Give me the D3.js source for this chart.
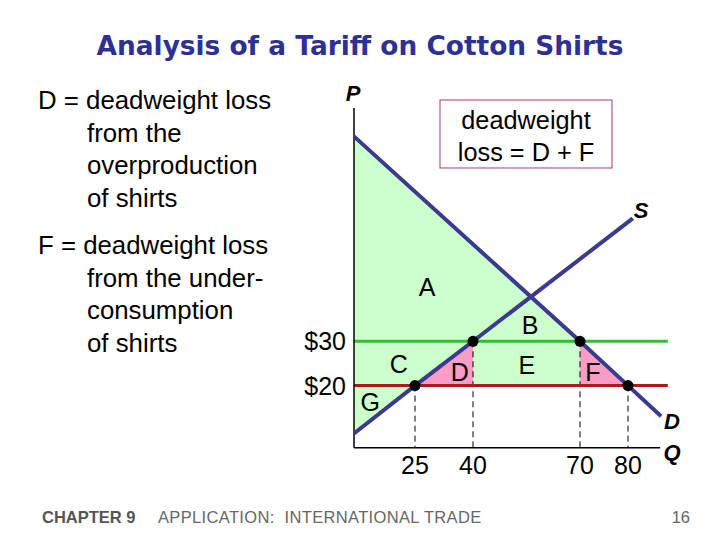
<!DOCTYPE html>
<html>
<head>
<meta charset="utf-8">
<script src="https://cdn.jsdelivr.net/npm/d3@7"></script>
<style>
  body { margin: 0; background: #fff; }
  svg { font-family: "Liberation Sans", Arial, sans-serif; }
</style>
</head>
<body>
<script>
// ----- data -----
const qTicks = [25, 40, 70, 80];
const pTicks = [20, 30];
const pTickLabels = ['$20', '$30'];
const demand = [{q: 0, p: 76.2}, {q: 70, p: 30}, {q: 80, p: 20}, {q: 86.9, p: 13.1}];
const supply = [{q: 0, p: 9.2}, {q: 25, p: 20}, {q: 40, p: 30}, {q: 81, p: 57.7}];
const worldPrice = 20;   // red line
const tariffPrice = 30;  // green line
const regionLabels = ['A', 'B', 'C', 'D', 'E', 'F', 'G'];
const regionQ = [28.1, 56, 18.4, 36.6, 55.1, 72.7, 6.6];
const regionP = [42.2, 33.7, 24.9, 23.1, 24.7, 23.1, 16.3];
const dots = [{q: 25, p: 20}, {q: 40, p: 30}, {q: 70, p: 30}, {q: 80, p: 20}];

const svg = d3.select('body').append('svg')
  .attr('width', 720)
  .attr('height', 540);

// quantity axis is not drawn to a uniform scale in the original
const x = d3.scaleLinear()
  .domain([0, 25, 40, 70, 80, 90])
  .range([354, 415, 473, 580, 628, 676]);
const y = d3.scaleLinear()
  .domain([6, 82.6])
  .range([447.7, 108]);

const qMax = 86.7, lineEnd = 88.3;

// ----- title -----
svg.append('text')
  .attr('x', 360).attr('y', 55)
  .attr('text-anchor', 'middle')
  .attr('font-family', '"DejaVu Sans", Verdana, sans-serif')
  .attr('font-size', 26.4).attr('font-weight', 'bold')
  .attr('fill', '#2e3092')
  .text('Analysis of a Tariff on Cotton Shirts');

// ----- left notes -----
const notes = [
  {y: 109, lines: ['D = deadweight loss', 'from the', 'overproduction', 'of shirts']},
  {y: 254, lines: ['F = deadweight loss', 'from the under-', 'consumption', 'of shirts']}
];
notes.forEach(n => {
  const t = svg.append('text').attr('font-size', 25.8).attr('fill', '#000');
  n.lines.forEach((l, i) => {
    t.append('tspan')
      .attr('x', i === 0 ? 38 : 87)
      .attr('y', n.y + i * 32.7)
      .text(l);
  });
});

// ----- shaded areas -----
const area = d3.line().x(d => x(d.q)).y(d => y(d.p));
const greenPoly = [demand[0], demand[1], {q: 70, p: worldPrice}, {q: 40, p: worldPrice},
  supply[2], supply[1], supply[0]];
svg.append('path')
  .attr('d', area(greenPoly) + 'Z')
  .attr('fill', '#ccffcc');

const pinkD = [{q: 25, p: 20}, {q: 40, p: 30}, {q: 40, p: 20}];
const pinkF = [{q: 70, p: 30}, {q: 80, p: 20}, {q: 70, p: 20}];
[pinkD, pinkF].forEach(tri => {
  svg.append('path')
    .attr('d', area(tri) + 'Z')
    .attr('fill', '#f99cc6');
});

// ----- dashed drop lines -----
svg.selectAll('.drop')
  .data(dots)
  .join('line')
  .attr('class', 'drop')
  .attr('x1', d => x(d.q)).attr('x2', d => x(d.q))
  .attr('y1', d => y(d.p)).attr('y2', y(6))
  .attr('stroke', '#000')
  .attr('stroke-width', 1)
  .attr('stroke-dasharray', '6,4');

// ----- price lines -----
svg.append('line')
  .attr('x1', x(0)).attr('x2', x(lineEnd))
  .attr('y1', y(tariffPrice)).attr('y2', y(tariffPrice))
  .attr('stroke', '#2fbf2f').attr('stroke-width', 3);
svg.append('line')
  .attr('x1', x(0)).attr('x2', x(lineEnd))
  .attr('y1', y(worldPrice)).attr('y2', y(worldPrice))
  .attr('stroke', '#a81c1c').attr('stroke-width', 3);

// ----- axes -----
svg.append('line')
  .attr('x1', x(0)).attr('x2', x(0))
  .attr('y1', y(82.6)).attr('y2', y(6))
  .attr('stroke', '#000').attr('stroke-width', 1.5);
svg.append('line')
  .attr('x1', x(0)).attr('x2', x(qMax))
  .attr('y1', y(6)).attr('y2', y(6))
  .attr('stroke', '#000').attr('stroke-width', 1.5);

svg.selectAll('.qtick')
  .data(qTicks)
  .join('text')
  .attr('class', 'qtick')
  .attr('x', d => x(d))
  .attr('y', 474)
  .attr('text-anchor', 'middle')
  .attr('font-size', 25)
  .text(d => d);

svg.selectAll('.ptick')
  .data(pTicks)
  .join('text')
  .attr('class', 'ptick')
  .attr('x', 346)
  .attr('y', d => y(d))
  .attr('dy', '0.36em')
  .attr('text-anchor', 'end')
  .attr('font-size', 25)
  .text((d, i) => pTickLabels[i]);

// ----- curves -----
const line = d3.line().x(d => x(d.q)).y(d => y(d.p));
[demand, supply].forEach(c => {
  svg.append('path')
    .attr('d', line(c))
    .attr('fill', 'none')
    .attr('stroke', '#3a3a8e')
    .attr('stroke-width', 4);
});

// ----- dots -----
svg.selectAll('.dot')
  .data(dots)
  .join('circle')
  .attr('class', 'dot')
  .attr('cx', d => x(d.q)).attr('cy', d => y(d.p))
  .attr('r', 5.5)
  .attr('fill', '#000');

// ----- region letters -----
svg.selectAll('.region')
  .data(regionLabels)
  .join('text')
  .attr('class', 'region')
  .attr('x', (d, i) => x(regionQ[i]))
  .attr('y', (d, i) => y(regionP[i]))
  .attr('dy', '0.36em')
  .attr('text-anchor', 'middle')
  .attr('font-size', 25)
  .text(d => d);

// ----- axis / curve names -----
const names = [
  {t: 'P', x: 353, y: 93},
  {t: 'S', x: 641, y: 210},
  {t: 'D', x: 672, y: 421},
  {t: 'Q', x: 672, y: 452}
];
svg.selectAll('.name')
  .data(names)
  .join('text')
  .attr('class', 'name')
  .attr('x', d => d.x).attr('y', d => d.y)
  .attr('dy', '0.36em')
  .attr('text-anchor', 'middle')
  .attr('font-size', 22)
  .attr('font-weight', 'bold')
  .attr('font-style', 'italic')
  .text(d => d.t);

// ----- deadweight loss box -----
svg.append('rect')
  .attr('x', 440).attr('y', 100)
  .attr('width', 172).attr('height', 68)
  .attr('fill', '#fff')
  .attr('stroke', '#a8386e').attr('stroke-width', 1);
svg.append('text')
  .attr('text-anchor', 'middle')
  .attr('font-size', 25.3)
  .selectAll('tspan')
  .data(['deadweight', 'loss = D + F'])
  .join('tspan')
  .attr('x', 526)
  .attr('y', (d, i) => 129 + i * 32)
  .text(d => d);

// ----- footer -----
svg.append('text')
  .attr('x', 42).attr('y', 523)
  .attr('font-size', 16.5).attr('font-weight', 'bold')
  .attr('fill', '#555')
  .text('CHAPTER 9');
svg.append('text')
  .attr('x', 158).attr('y', 523)
  .attr('font-size', 16.5)
  .attr('letter-spacing', 0.35)
  .attr('fill', '#666')
  .attr('xml:space', 'preserve')
  .style('white-space', 'pre')
  .text('APPLICATION:  INTERNATIONAL TRADE');
svg.append('text')
  .attr('x', 690).attr('y', 523)
  .attr('text-anchor', 'end')
  .attr('font-size', 16.5)
  .attr('fill', '#666')
  .text('16');
</script>
</body>
</html>
